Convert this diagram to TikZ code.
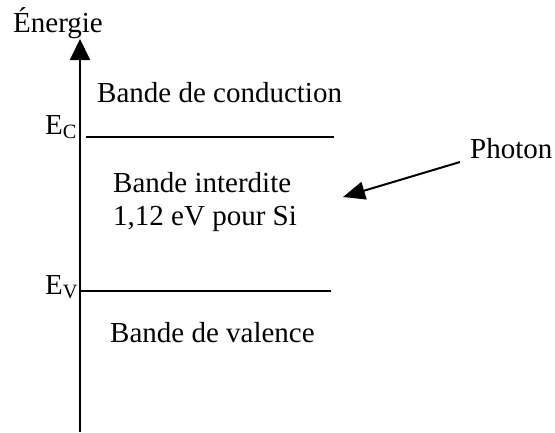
\documentclass[tikz,border=0pt]{standalone}
\usepackage{fontspec}
\setmainfont{Liberation Serif}
\usetikzlibrary{arrows.meta}
\begin{document}
\begin{tikzpicture}[x=1pt,y=-1pt,
  lbl/.style={anchor=base west,inner sep=0pt,font=\fontsize{29}{33}\selectfont},
  level/.style={line width=2pt},
  axis/.style={line width=2pt,-{Triangle[length=21pt,width=20pt]}},
  photonarrow/.style={line width=2pt,-{Triangle[length=22pt,width=18pt]}}]
  \useasboundingbox (0,0) rectangle (555,432);

  % energy axis
  \coordinate (axbot) at (80,432);
  \coordinate (axtop) at (80,39);
  \draw[axis] (axbot) -- (axtop);
  \node[lbl] (energie) at (13,32) {Énergie};

  % band edges
  \coordinate (ecl) at (86,137);
  \coordinate (ecr) at (334,137);
  \coordinate (evl) at (80,291);
  \coordinate (evr) at (331,291);
  \draw[level] (ecl) -- (ecr);
  \draw[level] (evl) -- (evr);
  \node[lbl] (ec) at (45,134) {E\textsubscript{C}};
  \node[lbl] (ev) at (45,294) {E\textsubscript{V}};

  % band labels
  \node[lbl] (cond) at (97,102) {Bande de conduction};
  \node[lbl] (gap1) at (113,192) {Bande interdite};
  \node[lbl] (gap2) at (113,225) {1,12 eV pour Si};
  \node[lbl] (val) at (110,342) {Bande de valence};

  % incoming photon
  \node[lbl] (photon) at (470,158) {Photon};
  \coordinate (phstart) at (460,162);
  \coordinate (phend) at (343,197);
  \draw[photonarrow] (phstart) -- (phend);
\end{tikzpicture}
\end{document}
